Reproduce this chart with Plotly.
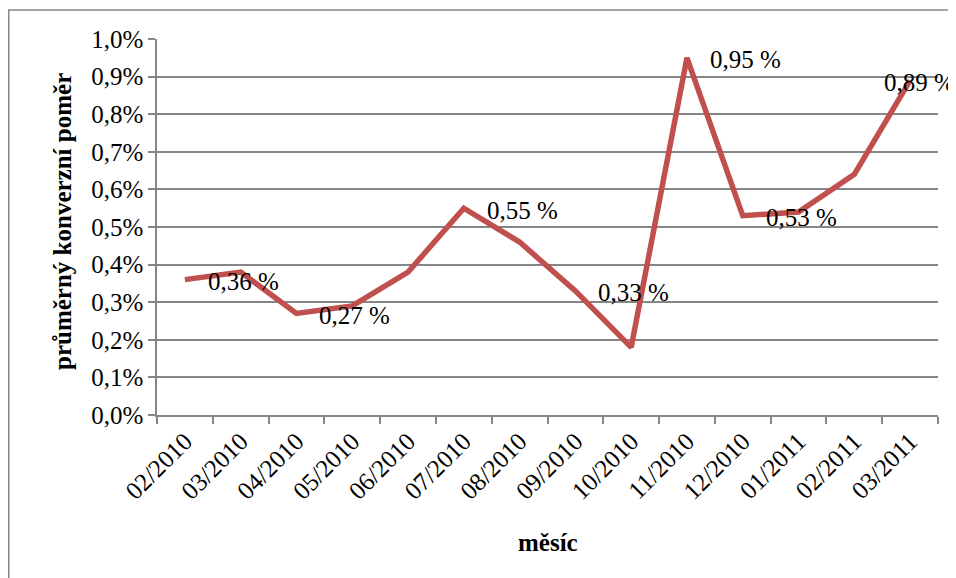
import plotly.graph_objects as go

months = ["02/2010", "03/2010", "04/2010", "05/2010", "06/2010", "07/2010", "08/2010",
          "09/2010", "10/2010", "11/2010", "12/2010", "01/2011", "02/2011", "03/2011"]
conv_pct = [0.36, 0.38, 0.27, 0.29, 0.38, 0.55, 0.46, 0.33, 0.18, 0.95, 0.53, 0.54, 0.64, 0.89]
labelled_idx = [0, 2, 5, 7, 9, 10, 13]
y_title = "průměrný konverzní poměr"
x_title = "měsíc"

values = [v / 100 for v in conv_pct]
FONT = "Times New Roman"
GRID = "#868686"

fig = go.Figure()
fig.add_trace(go.Scatter(
    x=months, y=values, mode="lines",
    line=dict(color="#C0504D", width=5.5),
    hoverinfo="skip", showlegend=False,
))

annotations = []
for i in labelled_idx:
    txt = f"{conv_pct[i]:.2f}".replace(".", ",") + " %"
    last = i == len(months) - 1
    annotations.append(dict(
        x=i, y=values[i], xref="x", yref="y", text=txt, showarrow=False,
        xanchor="center" if last else "left", yanchor="middle",
        xshift=9 if last else 21, yshift=-2,
        font=dict(family=FONT, size=25, color="black"),
    ))

annotations.append(dict(
    x=-0.1204, y=0.516, xref="paper", yref="paper", text=f"<b>{y_title}</b>",
    textangle=-90, showarrow=False, xanchor="center", yanchor="middle",
    font=dict(family=FONT, size=25, color="black"),
))
annotations.append(dict(
    x=0.5006, y=-0.340, xref="paper", yref="paper", text=f"<b>{x_title}</b>",
    showarrow=False, xanchor="center", yanchor="middle",
    font=dict(family=FONT, size=25, color="black"),
))

fig.update_layout(
    width=956, height=578,
    margin=dict(l=149, r=26, t=31, b=171),
    paper_bgcolor="white", plot_bgcolor="white",
    separators=", ",
    font=dict(family=FONT, size=25, color="black"),
    annotations=annotations,
    shapes=[dict(type="rect", xref="paper", yref="paper",
                 x0=-0.1898, x1=3, y0=-3, y1=1.0771,
                 line=dict(color=GRID, width=1.5), layer="below")],
    xaxis=dict(
        type="category", tickson="boundaries", ticks="outside", ticklen=7,
        tickcolor=GRID, tickwidth=1.5, tickangle=-45,
        showline=True, linecolor=GRID, linewidth=1.5,
        showgrid=False, zeroline=False,
        tickfont=dict(family=FONT, size=25, color="black"),
        range=[-0.5, len(months) - 0.5], fixedrange=True,
    ),
    yaxis=dict(
        range=[0, 0.01], dtick=0.001, tickformat=".1%",
        ticks="outside", ticklen=7, tickcolor=GRID, tickwidth=1.5,
        showline=True, linecolor=GRID, linewidth=1.5,
        showgrid=True, gridcolor=GRID, gridwidth=1.5, zeroline=False,
        tickfont=dict(family=FONT, size=25, color="black"),
        fixedrange=True,
    ),
)

fig.write_html("out.html")
